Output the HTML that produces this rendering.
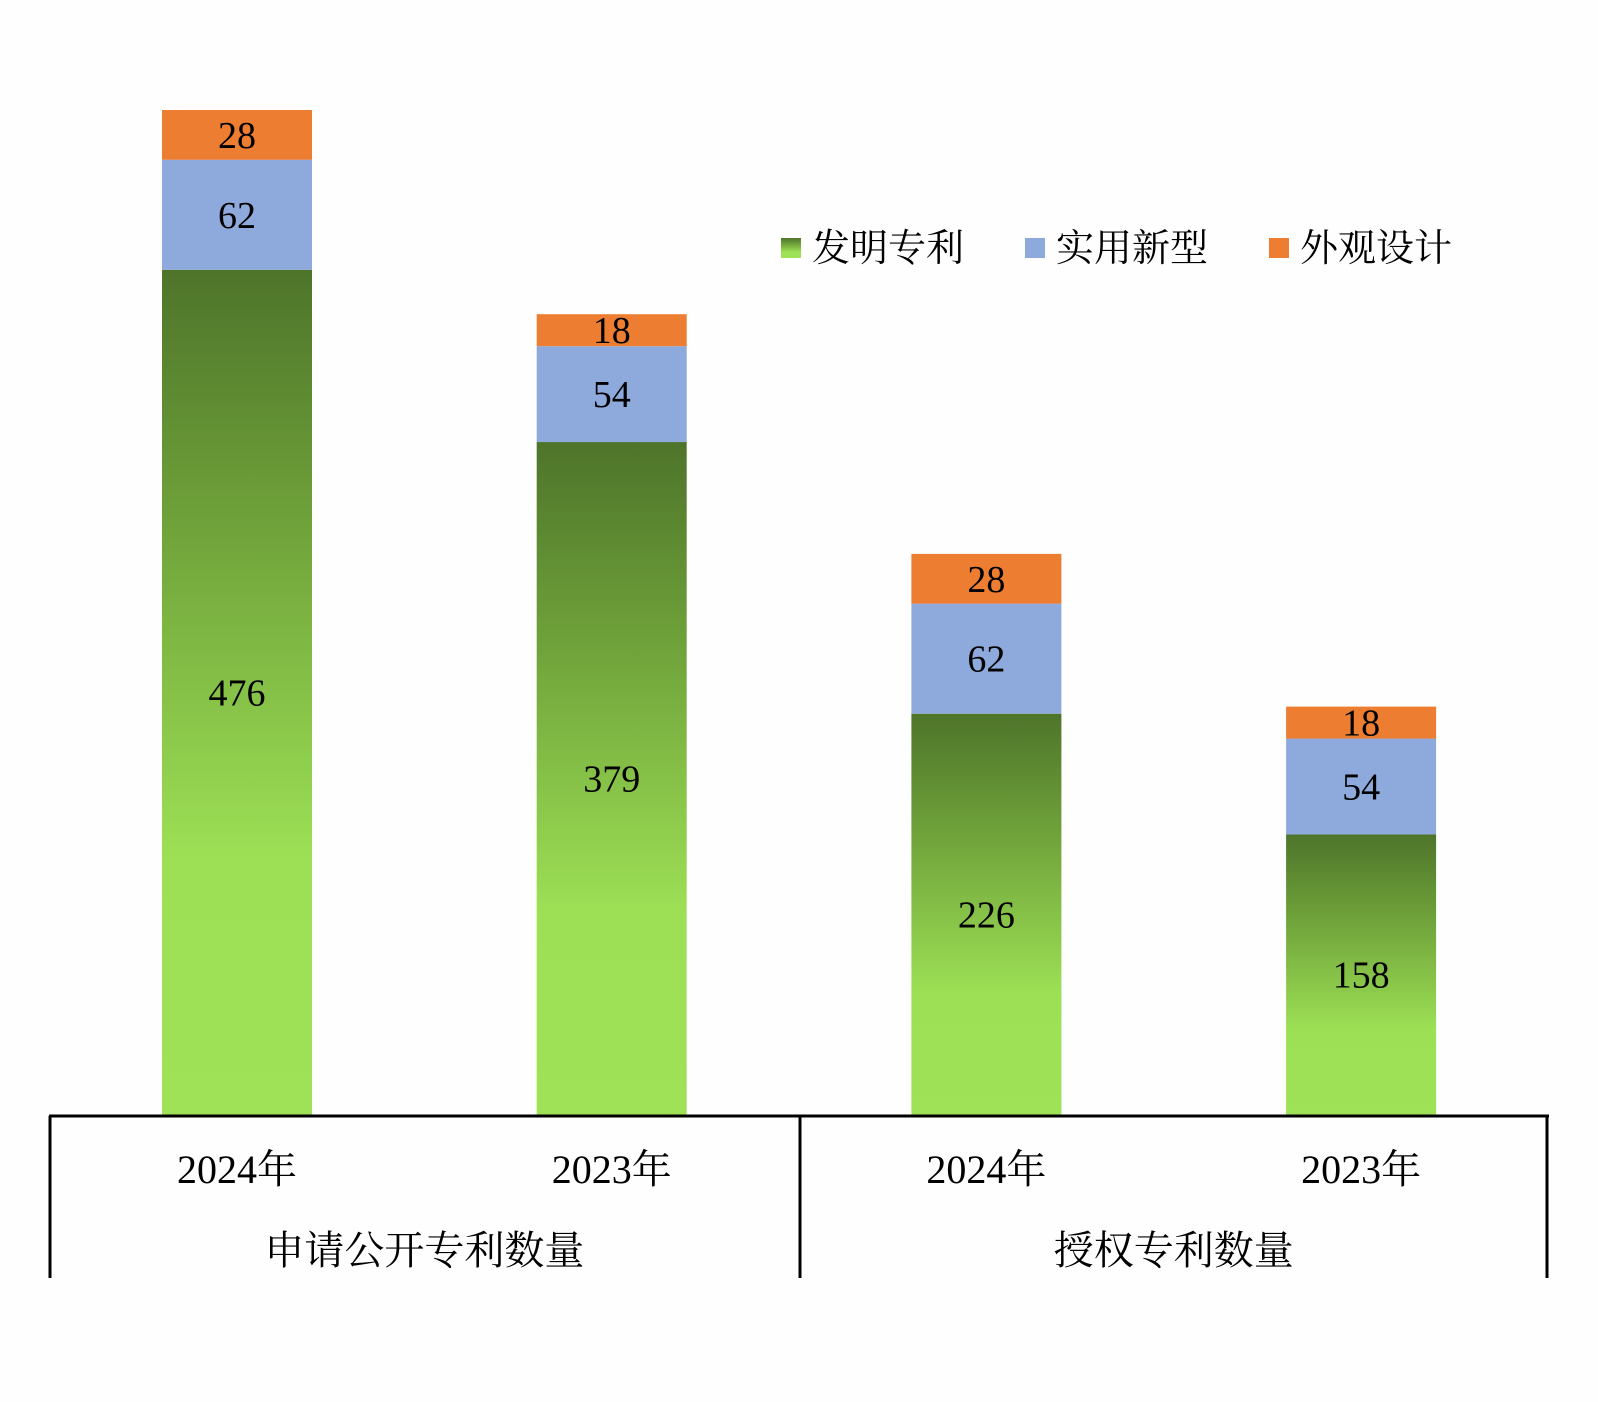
<!DOCTYPE html>
<html><head><meta charset="utf-8"><style>
html,body{margin:0;padding:0;background:#fefefe;}
svg{display:block;}
text{font-family:"Liberation Serif","Noto Serif CJK SC",serif;fill:#000;}
</style></head><body>
<svg id="chart" width="1598" height="1402">
<defs>
<linearGradient id="g" x1="0" y1="0" x2="0" y2="1">
<stop offset="0" stop-color="#4e742a"/><stop offset="0.3" stop-color="#6fa23a"/><stop offset="0.7" stop-color="#9de055"/><stop offset="1" stop-color="#9fe157"/>
</linearGradient>
</defs>
<g id="bars"></g>
<g id="axis">
<line x1="49" y1="1116" x2="1549" y2="1116" stroke="#000" stroke-width="3"/>
<line x1="50" y1="1116" x2="50" y2="1278" stroke="#000" stroke-width="3"/>
<line x1="800" y1="1116" x2="800" y2="1278" stroke="#000" stroke-width="3"/>
<line x1="1547" y1="1116" x2="1547" y2="1278" stroke="#000" stroke-width="3"/>
</g>
<g id="legend">
<g><rect x="781" y="238" width="20" height="20" fill="url(#g)"/><text x="812" y="261" font-size="38">发明专利</text></g>
<g><rect x="1025" y="238" width="20" height="20" fill="#8eaadc"/><text x="1056" y="261" font-size="38">实用新型</text></g>
<g><rect x="1269" y="238" width="20" height="20" fill="#ed7d31"/><text x="1300" y="261" font-size="38">外观设计</text></g>
</g>
</svg>
<script>
const categories=["2024年","2023年","2024年","2023年"];
const groups=["申请公开专利数量","授权专利数量"];
const invention=[476,379,226,158];
const utility=[62,54,62,54];
const design=[28,18,28,18];
const svg=document.getElementById('chart');
const NS='http://www.w3.org/2000/svg';
const baseY=1115, scale=1005/566;
const y=v=>baseY-v*scale;
const xc=i=>237+i*374.7;
const bw=150;
const bars=document.getElementById('bars');
function mk(t,a){const e=document.createElementNS(NS,t);for(const k in a)e.setAttribute(k,a[k]);return e;}
const series=[[invention,'url(#g)','invention'],[utility,'#8eaadc','utility'],[design,'#ed7d31','design']];
categories.forEach((c,i)=>{
 let acc=0;
 series.forEach(([arr,fill,nm])=>{
  const v=arr[i];
  const r=mk('rect',{x:xc(i)-bw/2,y:y(acc+v),width:bw,height:v*scale,fill:fill});
  
  
  bars.appendChild(r);
  const t=mk('text',{x:xc(i),y:y(acc+v/2)+13,'font-size':38,'text-anchor':'middle'});
  
  
  t.textContent=v;bars.appendChild(t);
  acc+=v;
 });
 const l=mk('text',{x:xc(i),y:1183,'font-size':40,'text-anchor':'middle'});
 
 
 l.textContent=c;svg.appendChild(l);
});
groups.forEach((g,j)=>{
 const t=mk('text',{x:(xc(2*j)+xc(2*j+1))/2,y:1264,'font-size':40,'text-anchor':'middle'});
 
 
 t.textContent=g;svg.appendChild(t);
});
</script>
</body></html>
